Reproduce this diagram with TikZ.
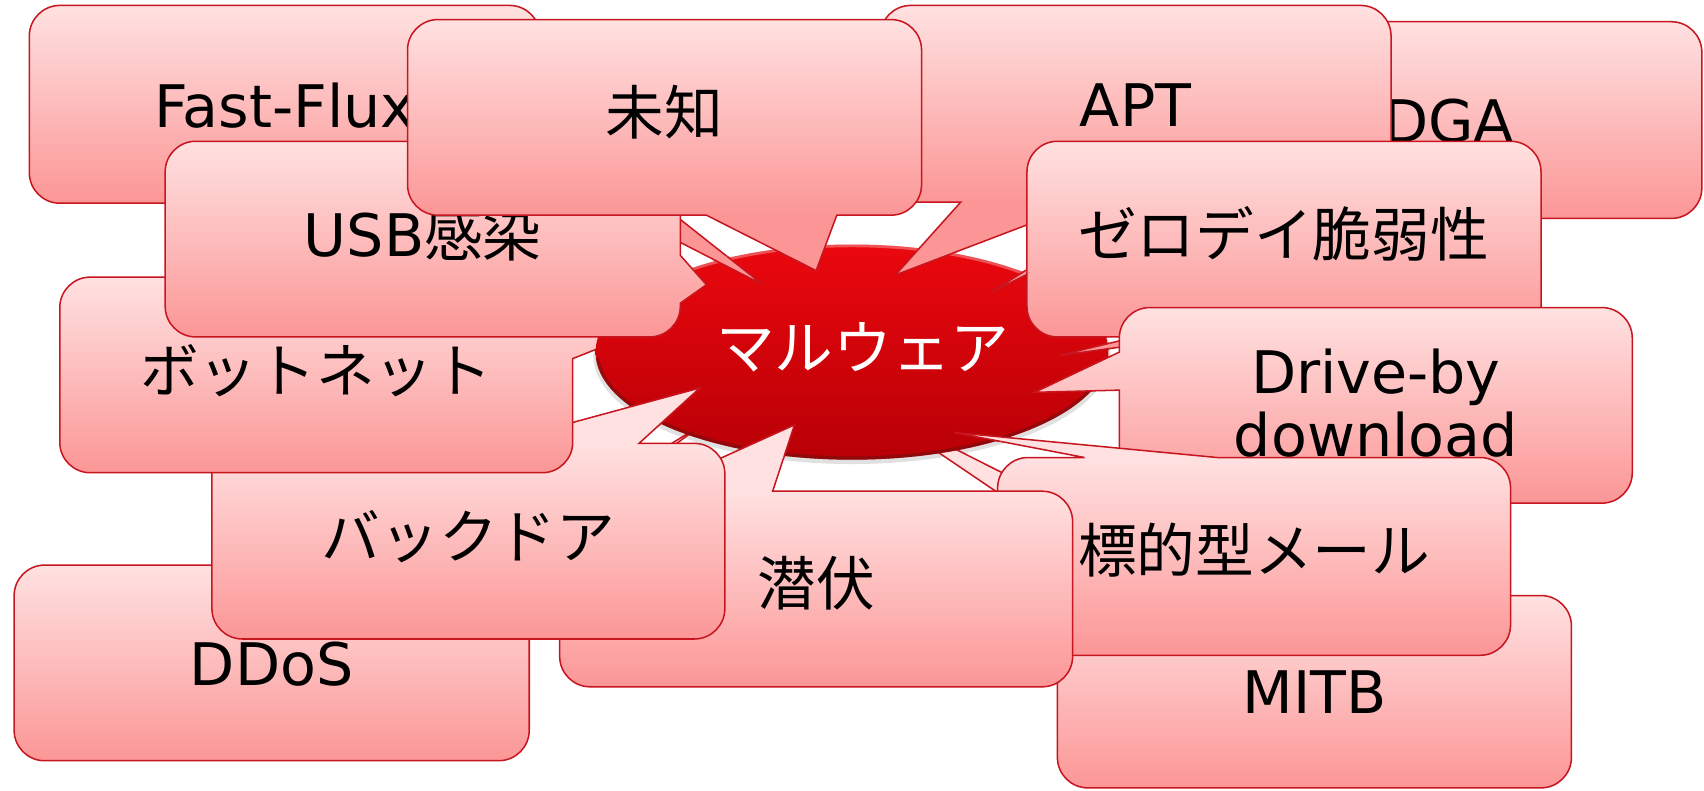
\documentclass[tikz,border=0pt]{standalone}
\usepackage{fontspec}
\setmainfont{DejaVu Sans}
\newfontfamily\jp{Noto Sans CJK JP}
\definecolor{ctop}{RGB}{255,225,225}
\definecolor{cbot}{RGB}{252,150,150}
\definecolor{cedge}{RGB}{200,22,32}
\definecolor{eltop}{RGB}{234,8,14}
\definecolor{elmid}{RGB}{214,4,10}
\definecolor{elbot}{RGB}{184,0,6}
\definecolor{elrim}{RGB}{110,15,15}
\newcommand\cR{28}
\newcommand\cK{0.45}
% x1 y1 x2 y2 topwedge rightwedge bottomwedge leftwedge
\newcommand\cshape[8]{({#1+\cR},#2) #5 -- ({#3-\cR},#2) .. controls ({#3-\cK*\cR},#2) and (#3,{#2+\cK*\cR}) .. (#3,{#2+\cR}) #6 -- (#3,{#4-\cR}) .. controls (#3,{#4-\cK*\cR}) and ({#3-\cK*\cR},#4) .. ({#3-\cR},#4) #7 -- ({#1+\cR},#4) .. controls ({#1+\cK*\cR},#4) and (#1,{#4-\cK*\cR}) .. (#1,{#4-\cR}) #8 -- (#1,{#2+\cR}) .. controls (#1,{#2+\cK*\cR}) and ({#1+\cK*\cR},#2) .. ({#1+\cR},#2) -- cycle}
\newcommand\callout[8]{%
  \begin{scope}
    \clip \cshape{#1}{#2}{#3}{#4}{#5}{#6}{#7}{#8};
    \fill[ctop] (0,-10) rectangle (1568,#2);
    \fill[cbot] (0,#4) rectangle (1568,737);
    \shade[top color=ctop,bottom color=cbot] (0,#2) rectangle (1568,#4);
  \end{scope}
  \draw[cline] \cshape{#1}{#2}{#3}{#4}{#5}{#6}{#7}{#8};
}
\newcommand\cFF{\callout{27}{5}{497}{187}{}{-- (497,100) -- (702,262) -- (497,157)}{}{}}
\newcommand\cDGA{\callout{1100}{20}{1566}{201}{}{}{}{-- (1100,175) -- (912,269) -- (1100,150)}}
\newcommand\cAPT{\callout{810}{5}{1280}{186}{}{}{-- (1000,186) -- (824,253) -- (884,186)}{}}
\newcommand\cZD{\callout{945}{130}{1418}{310}{}{}{-- (1100,310) -- (975,327) -- (1045,310)}{}}
\newcommand\cDBD{\callout{1030}{283}{1502}{463}{}{}{}{-- (1030,359) -- (952,361) -- (1030,324)}}
\newcommand\cMITB{\callout{973}{548}{1446}{725}{-- (1058,548) -- (801,374) -- (1147,548)}{}{}{}}
\newcommand\cHM{\callout{918}{421}{1390}{603}{-- (998,421) -- (878,398) -- (1120,421)}{}{}{}}
\newcommand\cDDoS{\callout{13}{520}{487}{700}{-- (440,520) -- (650,388) -- (470,520)}{}{}{}}
\newcommand\cSF{\callout{515}{452}{987}{632}{-- (596,452) -- (731,391) -- (711,452)}{}{}{}}
\newcommand\cBD{\callout{195}{408}{667}{588}{-- (456,408) -- (644,357) -- (588,408)}{}{}{}}
\newcommand\cBN{\callout{55}{255}{527}{435}{}{-- (527,290) -- (610,297) -- (527,330)}{}{}}
\newcommand\cUSB{\callout{152}{130}{626}{310}{}{-- (626,235) -- (650,262) -- (626,279)}{}{}}
\newcommand\cMC{\callout{375}{18}{848}{198}{}{}{-- (770,198) -- (751,249) -- (650,198)}{}}
\newcommand\ellpath{(784,324) ellipse [x radius=236pt,y radius=99pt]}
\begin{document}
\begin{tikzpicture}[x=1pt,y=-1pt,
  cline/.style={draw=cedge,line width=1.4pt},
  lbl/.style={anchor=base,inner sep=0pt,font=\fontsize{54}{58}\selectfont},
  lblc/.style={anchor=center,inner sep=0pt,align=center,font=\fontsize{54}{58}\selectfont}]
\useasboundingbox (0,0) rectangle (1568,727);
\fill[white] (0,0) rectangle (1568,727);
% soft shadow under the central ellipse (behind everything)
\fill[black,opacity=0.12] (784,327) ellipse [x radius=238pt,y radius=100pt];
\cFF   \node[lbl] (tFF) at (262,117) {Fast-Flux};
\cDGA  \node[lbl] (tDGA) at (1333,131) {DGA};
\cAPT  \node[lbl] (tAPT) at (1045,116) {APT};
\cZD   \node[lbl] (tZD) at (1181,236) {\jp ゼロデイ脆弱性};
\cDBD  \node[lblc] (tDBD) at (1266,371) {Drive-by\\download};
\cMITB \node[lbl] (tMITB) at (1210,657) {MITB};
\cHM   \node[lbl] (tHM) at (1154,527) {\jp 標的型メール};
\cDDoS \node[lbl] (tDDoS) at (250,631) {DDoS};
\cSF   \node[lbl] (tSF) at (751,557) {\jp 潜伏};
\cBD   \node[lbl] (tBD) at (431,514) {\jp バックドア};
\cBN   \node[lbl] (tBN) at (291,361) {\jp ボットネット};
% central ellipse
\shade[top color=eltop,middle color=elmid,bottom color=elbot] \ellpath;
\begin{scope}
  \clip \ellpath;
  \begin{scope}
    \clip (0,330) rectangle (1568,727);
    \draw[elrim,opacity=0.55,line width=6pt] \ellpath;
  \end{scope}
  \begin{scope}
    \clip (0,0) rectangle (1568,310);
    \draw[white,opacity=0.30,line width=5pt] \ellpath;
  \end{scope}
\end{scope}
% wedges that lie over the ellipse
\begin{scope}
  \clip (784,324) ellipse [x radius=237.5pt,y radius=100.5pt];
  \cFF \cDGA \cAPT \cZD \cDBD \cHM \cSF \cBD
\end{scope}
\cUSB \node[lbl] (tUSB) at (389,236) {USB{\jp 感染}};
\cMC  \node[lbl] (tMC) at (611,124) {\jp 未知};
\node[anchor=base,inner sep=0pt,text=white,font=\fontsize{54}{58}\selectfont\jp] (mal) at (794,340) {マルウェア};
\end{tikzpicture}
\end{document}
